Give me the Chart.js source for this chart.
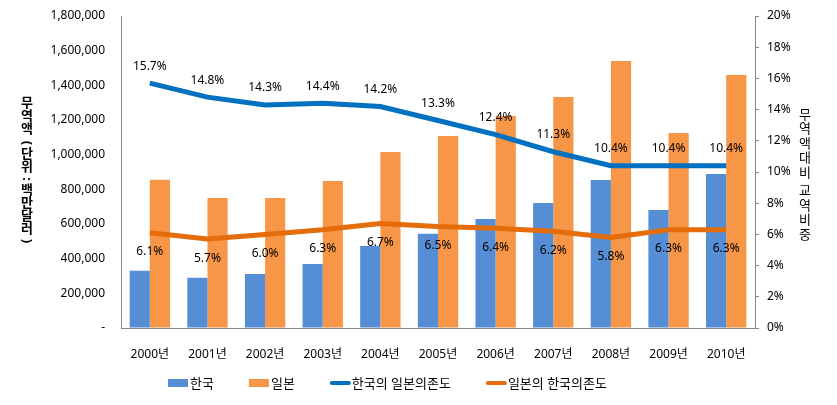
<!DOCTYPE html>
<html>
<head>
<meta charset="utf-8">
<script src="https://cdn.jsdelivr.net/npm/chart.js@4.4.0/dist/chart.umd.min.js"></script>
<style>
  html, body { margin: 0; padding: 0; background: #fff; }
  #wrap { width: 837px; height: 405px; }
</style>
</head>
<body>
<div id="wrap"><canvas id="chart"></canvas></div>
<script>
// 연도
var years = ['2000년','2001년','2002년','2003년','2004년','2005년','2006년','2007년','2008년','2009년','2010년'];
// 무역액 (백만달러)
var korea = [331000, 290000, 312000, 369000, 473000, 544000, 629000, 721000, 854000, 681000, 888000];
var japan = [855000, 750000, 750000, 848000, 1015000, 1108000, 1223000, 1333000, 1540000, 1125000, 1460000];
// 의존도 (%)
var koreaOnJapan = [15.7, 14.8, 14.3, 14.4, 14.2, 13.3, 12.4, 11.3, 10.4, 10.4, 10.4];
var japanOnKorea = [6.1, 5.7, 6.0, 6.3, 6.7, 6.5, 6.4, 6.2, 5.8, 6.3, 6.3];

var FONT = '"Noto Sans", "Noto Sans CJK KR", sans-serif';

// 라인 값 라벨 + 축 제목 + 범례
var extras = {
  id: 'extras',
  afterDatasetsDraw: function(chart) {
    var c = chart.ctx;
    c.save();
    c.font = '12px ' + FONT;
    c.fillStyle = '#000';
    c.textAlign = 'center';
    c.textBaseline = 'middle';
    chart.data.datasets.forEach(function(ds, i) {
      if (ds.type !== 'line') return;
      var meta = chart.getDatasetMeta(i);
      meta.data.forEach(function(pt, j) {
        var dy = ds.labelPos === 'above' ? -17 : 19;
        c.fillText(ds.data[j].toFixed(1) + '%', pt.x, pt.y + dy);
      });
    });
    c.restore();
  },
  afterDraw: function(chart) {
    var c = chart.ctx;
    c.save();
    c.fillStyle = '#000';
    c.textAlign = 'center';
    c.textBaseline = 'middle';
    // 왼쪽 축 제목 (세로 쓰기)
    c.font = 'bold 13px ' + FONT;
    var left = '무역액(단위:백만달러)'.split('');
    var y = 103;
    left.forEach(function(ch) {
      if (ch === '(' || ch === ')') {
        c.save();
        c.translate(27, y + (ch === '(' ? 1 : -1));
        c.rotate(Math.PI / 2);
        c.fillText(ch, 0, 0);
        c.restore();
        y += 12;
      } else if (ch === ':') {
        c.save();
        c.translate(27, y - 1);
        c.rotate(Math.PI / 2);
        c.fillText(ch, 0, 0);
        c.restore();
        y += 10;
      } else {
        c.fillText(ch, 27, y);
        y += 13;
      }
    });
    // 오른쪽 축 제목
    c.font = '13px ' + FONT;
    var right = '무역액대비 교역비중'.split('');
    y = 115;
    right.forEach(function(ch) {
      if (ch === ' ') { y += 4; return; }
      c.fillText(ch, 805, y);
      y += 14.5;
    });
    // 범례
    c.font = '13px ' + FONT;
    c.textAlign = 'left';
    var x = 168, ly = 383;
    chart.data.datasets.forEach(function(ds) {
      if (ds.type === 'line') {
        c.strokeStyle = ds.borderColor;
        c.lineWidth = 4;
        c.lineCap = 'round';
        c.beginPath();
        c.moveTo(x + 2, ly);
        c.lineTo(x + 19, ly);
        c.stroke();
      } else {
        c.fillStyle = ds.backgroundColor;
        c.fillRect(x, ly - 4, 20, 8);
      }
      c.fillStyle = '#000';
      c.fillText(ds.label, x + 22, ly + 1);
      x += 22 + c.measureText(ds.label).width + 35;
    });
    c.restore();
  }
};

new Chart(document.getElementById('chart'), {
  type: 'bar',
  data: {
    labels: years,
    datasets: [
      { label: '한국', data: korea, backgroundColor: '#558ED5', yAxisID: 'y', order: 1,
        categoryPercentage: 0.7, barPercentage: 1 },
      { label: '일본', data: japan, backgroundColor: '#F79646', yAxisID: 'y', order: 1,
        categoryPercentage: 0.7, barPercentage: 1 },
      { type: 'line', label: '한국의 일본의존도', data: koreaOnJapan, yAxisID: 'y1',
        borderColor: '#0070C0', backgroundColor: '#0070C0', borderWidth: 5, pointRadius: 0,
        tension: 0, labelPos: 'above', order: 0 },
      { type: 'line', label: '일본의 한국의존도', data: japanOnKorea, yAxisID: 'y1',
        borderColor: '#E46C0A', backgroundColor: '#E46C0A', borderWidth: 5, pointRadius: 0,
        tension: 0, labelPos: 'below', order: 0 }
    ]
  },
  options: {
    responsive: true,
    maintainAspectRatio: false,
    animation: false,
    layout: { padding: { top: 16, left: 0, right: 0, bottom: 0 } },
    plugins: {
      legend: { display: false },
      tooltip: { enabled: false }
    },
    scales: {
      x: {
        grid: { display: false },
        border: { color: '#868686' },
        ticks: { color: '#000', font: { size: 12, family: FONT }, padding: 11, maxRotation: 0 },
        afterFit: function(s) { s.height = 77; }
      },
      y: {
        position: 'left',
        min: 0, max: 1800000,
        grid: { drawOnChartArea: false, tickLength: 10, tickColor: 'rgba(0,0,0,0)' },
        border: { color: '#868686' },
        ticks: {
          stepSize: 200000, color: '#000', padding: 6,
          font: { size: 12, family: FONT },
          callback: function(v) { return v === 0 ? '-' : v.toLocaleString('en-US'); }
        },
        afterFit: function(s) { s.width = 121; }
      },
      y1: {
        position: 'right',
        min: 0, max: 20,
        grid: { drawOnChartArea: false, color: '#868686', tickLength: 4 },
        border: { color: '#868686' },
        ticks: {
          stepSize: 2, color: '#000', padding: 8,
          font: { size: 12, family: FONT },
          callback: function(v) { return v + '%'; }
        },
        afterFit: function(s) { s.width = 82; }
      }
    }
  },
  plugins: [extras]
});
</script>
</body>
</html>
